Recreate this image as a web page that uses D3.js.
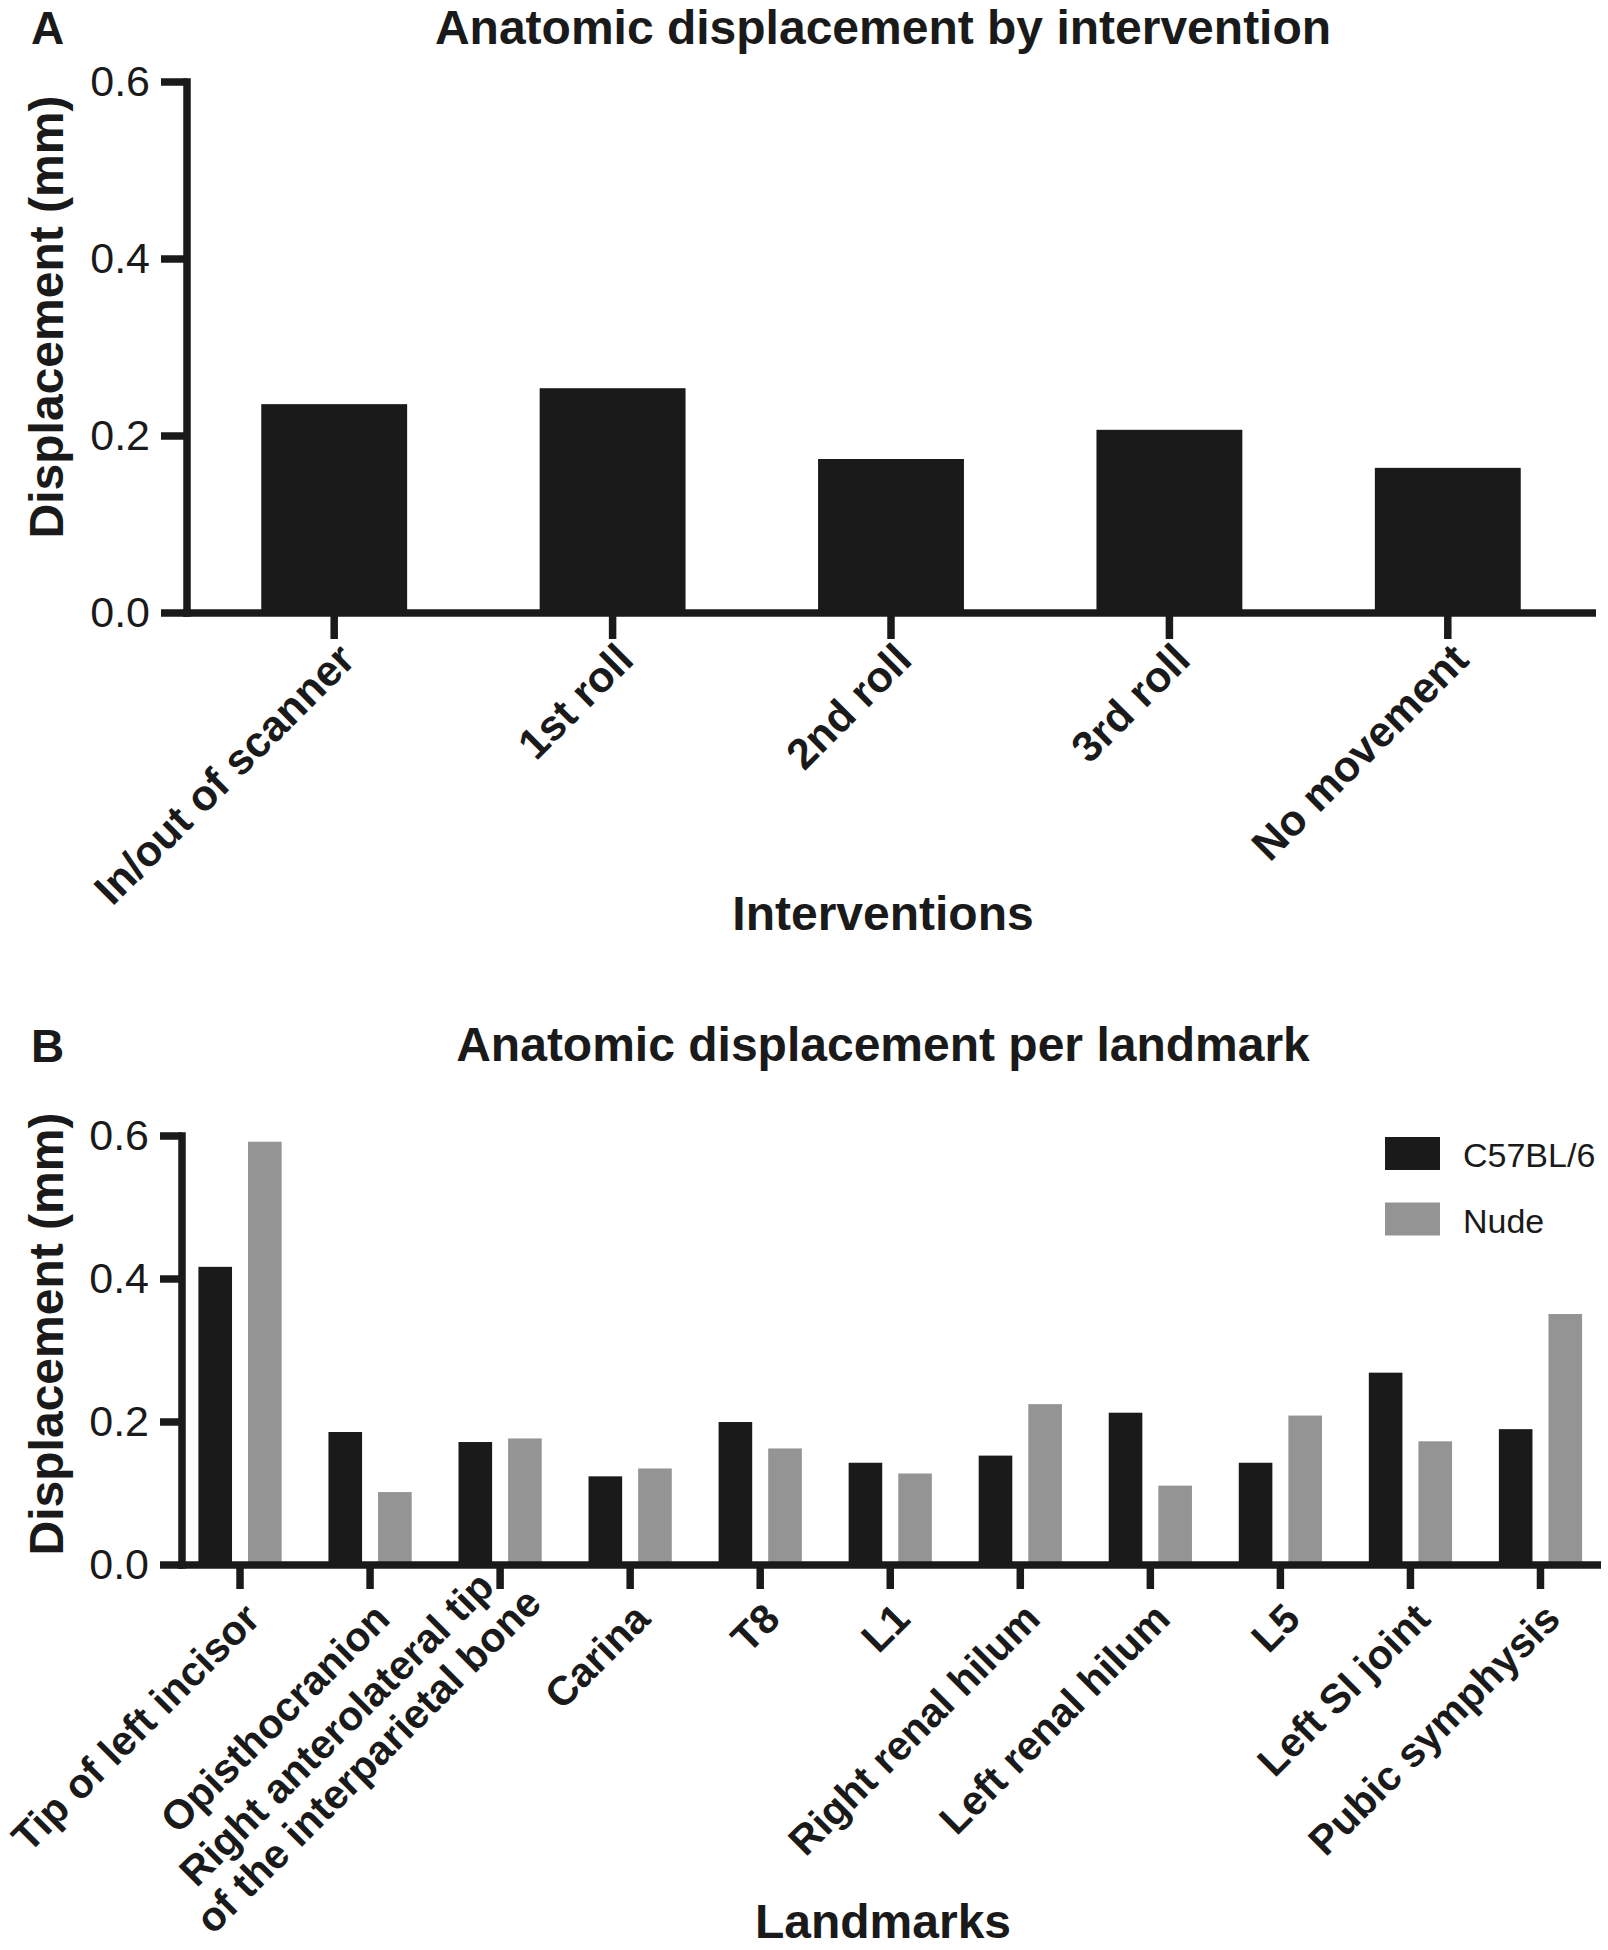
<!DOCTYPE html>
<html><head><meta charset="utf-8">
<script src="https://cdn.jsdelivr.net/npm/d3@7"></script>
<style>
html,body{margin:0;padding:0;background:#fff;}
svg{display:block;}
text{font-family:"Liberation Sans",Arial,Helvetica,sans-serif;fill:#1a1a1a;}
</style></head><body>
<svg id="chart" width="1608" height="1950"></svg>
<script>
// ---------- data ----------
const interventions = ["In/out of scanner", "1st roll", "2nd roll", "3rd roll", "No movement"];
const interventionValues = [0.236, 0.254, 0.174, 0.207, 0.164];

const landmarks = ["Tip of left incisor", "Opisthocranion",
  "Right anterolateral tip\nof the interparietal bone", "Carina", "T8", "L1",
  "Right renal hilum", "Left renal hilum", "L5", "Left SI joint", "Pubic symphysis"];
const seriesNames = ["C57BL/6", "Nude"];
const c57Values  = [0.417, 0.186, 0.172, 0.124, 0.200, 0.143, 0.153, 0.213, 0.143, 0.269, 0.190];
const nudeValues = [0.592, 0.102, 0.177, 0.135, 0.163, 0.128, 0.225, 0.111, 0.209, 0.173, 0.351];

const yTickValues = [0, 0.2, 0.4, 0.6];
const panelLabels = ["A", "B"];
const titles = ["Anatomic displacement by intervention", "Anatomic displacement per landmark"];
const yTitle = "Displacement (mm)";
const xTitles = ["Interventions", "Landmarks"];

// ---------- style ----------
const INK = "#1a1a1a", GRAY = "#949494", SW = 7.5;
const FONT_TITLE = 48, FONT_TICK = 43;

const svg = d3.select("#chart");

function styleAxis(g, fontSize) {
  g.selectAll(".domain").attr("stroke", INK).attr("stroke-width", SW).attr("stroke-linecap", "square");
  g.selectAll(".tick line").attr("stroke", INK).attr("stroke-width", SW);
  g.selectAll(".tick text").attr("font-size", fontSize).attr("fill", INK);
}

// ================= Panel A =================
const yA = d3.scaleLinear().domain([0, 0.6]).range([613, 82]);
const xA = d3.scaleBand().domain(interventions).range([195, 1587]).paddingInner(0.476).paddingOuter(0.238);
const axisXA = 187;
const gA = svg.append("g");

gA.selectAll("rect.bar").data(interventions).join("rect")
  .attr("class", "bar")
  .attr("x", d => xA(d))
  .attr("y", (d, i) => yA(interventionValues[i]))
  .attr("width", xA.bandwidth())
  .attr("height", (d, i) => yA(0) - yA(interventionValues[i]))
  .attr("fill", INK);

// x axis baseline
gA.append("line").attr("x1", axisXA - SW / 2).attr("x2", 1596)
  .attr("y1", yA(0)).attr("y2", yA(0)).attr("stroke", INK).attr("stroke-width", SW);

const xAxA = gA.append("g").attr("transform", `translate(0,${yA(0)})`)
  .call(d3.axisBottom(xA).tickSize(26).tickSizeOuter(0).offset(0).tickFormat(""));
xAxA.select(".domain").remove();
styleAxis(xAxA, 0);

const yAxA = gA.append("g").attr("transform", `translate(${axisXA},0)`)
  .call(d3.axisLeft(yA).tickValues(yTickValues).tickFormat(d3.format(".1f"))
    .tickSize(26).tickSizeOuter(0).tickPadding(11).offset(0));
styleAxis(yAxA, FONT_TICK);

gA.selectAll("g.xlab").data(interventions).join("g")
  .attr("class", "xlab")
  .attr("transform", d => `translate(${xA(d) + xA.bandwidth() / 2 + 23},662) rotate(-45)`)
  .append("text").attr("text-anchor", "end").attr("font-weight", "bold").attr("font-size", 43)
  .text(d => d);

// ================= Panel B =================
const yB = d3.scaleLinear().domain([0, 0.6]).range([1565, 1136]);
const xB = d3.scaleBand().domain(landmarks).range([175, 1605.5]).paddingInner(0.36).paddingOuter(0.18);
const xB1 = d3.scaleBand().domain(seriesNames).range([0, xB.bandwidth()]).paddingInner(0.3226).paddingOuter(0);
const color = d3.scaleOrdinal().domain(seriesNames).range([INK, GRAY]);
const axisXB = 182;
const gB = svg.append("g");

const rows = landmarks.map((l, i) => ({ l, vals: [c57Values[i], nudeValues[i]] }));
gB.selectAll("g.grp").data(rows).join("g")
  .attr("class", "grp")
  .attr("transform", d => `translate(${xB(d.l)},0)`)
  .selectAll("rect").data(d => seriesNames.map((s, j) => ({ s, v: d.vals[j] }))).join("rect")
  .attr("x", d => xB1(d.s))
  .attr("y", d => yB(d.v))
  .attr("width", xB1.bandwidth())
  .attr("height", d => yB(0) - yB(d.v))
  .attr("fill", d => color(d.s));

gB.append("line").attr("x1", axisXB - SW / 2).attr("x2", 1601)
  .attr("y1", yB(0)).attr("y2", yB(0)).attr("stroke", INK).attr("stroke-width", SW);

const xAxB = gB.append("g").attr("transform", `translate(0,${yB(0)})`)
  .call(d3.axisBottom(xB).tickSize(24).tickSizeOuter(0).offset(0).tickFormat(""));
xAxB.select(".domain").remove();
styleAxis(xAxB, 0);

const yAxB = gB.append("g").attr("transform", `translate(${axisXB},0)`)
  .call(d3.axisLeft(yB).tickValues(yTickValues).tickFormat(d3.format(".1f"))
    .tickSize(22).tickSizeOuter(0).tickPadding(11).offset(0));
styleAxis(yAxB, FONT_TICK);

const labB = gB.selectAll("g.xlab").data(landmarks).join("g")
  .attr("class", "xlab")
  .attr("transform", d => `translate(${xB(d) + xB.bandwidth() / 2 + 22},1621) rotate(-45)`);
labB.each(function (d) {
  const g = d3.select(this);
  const lines = d.split("\n");
  if (lines.length === 1) {
    g.append("text").attr("text-anchor", "end").attr("font-weight", "bold").attr("font-size", 41).text(d);
  } else {
    const ts = lines.map((ln, k) => g.append("text").attr("text-anchor", "middle")
      .attr("font-weight", "bold").attr("font-size", 41).attr("y", k === 0 ? -41 : 4).text(ln));
    const maxLen = d3.max(ts, t => t.node().getComputedTextLength());
    ts.forEach(t => t.attr("x", 26 - maxLen / 2));
  }
});

// legend
const leg = gB.selectAll("g.leg").data(seriesNames).join("g")
  .attr("class", "leg")
  .attr("transform", (d, i) => `translate(1385,${1137 + i * 65.5})`);
leg.append("rect").attr("width", 55).attr("height", 33).attr("fill", d => color(d));
leg.append("text").attr("x", 78).attr("y", 30).attr("font-size", 34).text(d => d);

// ================= titles =================
const panelY = [44, 1062];
svg.selectAll("text.plab").data(panelLabels).join("text")
  .attr("class", "plab").attr("x", 31).attr("y", (d, i) => panelY[i])
  .attr("font-weight", "bold").attr("font-size", 46).text(d => d);
svg.selectAll("text.ptitle").data(titles).join("text")
  .attr("class", "ptitle").attr("x", 883).attr("y", (d, i) => i === 0 ? 44 : 1061)
  .attr("text-anchor", "middle").attr("font-weight", "bold").attr("font-size", FONT_TITLE).text(d => d);
const yTitleCenters = [317, 1334];
svg.selectAll("text.ytitle").data(yTitleCenters).join("text")
  .attr("class", "ytitle")
  .attr("transform", d => `translate(63,${d}) rotate(-90)`)
  .attr("text-anchor", "middle").attr("font-weight", "bold").attr("font-size", FONT_TITLE).text(yTitle);
const xTitleY = [930, 1938];
svg.selectAll("text.xtitle").data(xTitles).join("text")
  .attr("class", "xtitle").attr("x", 883).attr("y", (d, i) => xTitleY[i])
  .attr("text-anchor", "middle").attr("font-weight", "bold").attr("font-size", FONT_TITLE).text(d => d);
</script>
</body></html>
